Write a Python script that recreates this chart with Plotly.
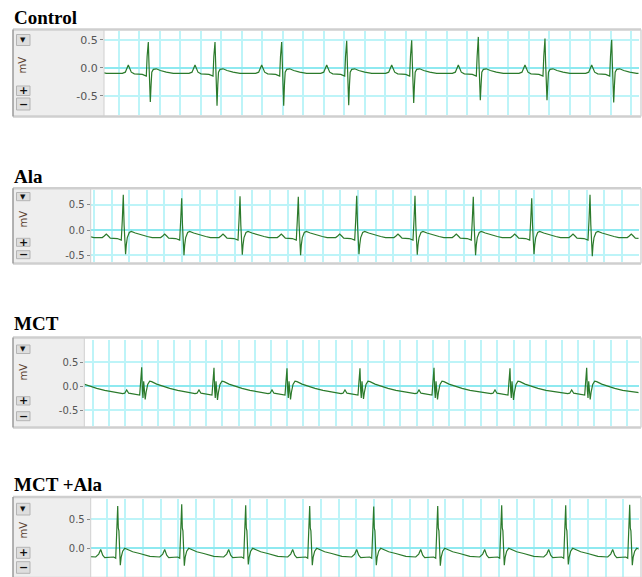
import plotly.graph_objects as go

# ---------------- DATA ----------------
titles = ["Control", "Ala", "MCT", "MCT +Ala"]
y_tick_vals = [-0.5, 0.0, 0.5]
y_tick_text = ["-0.5", "0.0", "0.5"]

# Control: R-peak times (s), R and S amplitudes (mV)
ctrl_r_times = [0.060, 0.2227, 0.3854, 0.5480, 0.7066, 0.8651, 1.0276, 1.1902, 1.3529, 1.5156]
ctrl_r_amp = [0.48, 0.46, 0.46, 0.46, 0.48, 0.49, 0.55, 0.52, 0.50, 0.50]
ctrl_s_amp = [-0.62, -0.61, -0.68, -0.68, -0.67, -0.63, -0.58, -0.58, -0.62, -0.62]
ctrl_beat_t = [-0.0780, -0.0634, -0.0561, -0.0488, -0.0415, -0.0341, -0.0146, -0.0073, -0.0049, -0.0029,
               0.0, 0.0015, 0.0029, 0.0049, 0.0068, 0.0085, 0.0122, 0.0195, 0.0293, 0.0439, 0.0610, 0.0780]
ctrl_beat_v = [-0.10, -0.10, -0.08, 0.05, -0.08, -0.11, -0.12, -0.14, -0.15, 0.20,
               "R", 0.10, -0.30, "S", -0.30, -0.08, -0.03, -0.02, -0.05, -0.08, -0.10, -0.10]

# Ala
ala_r_times = [-0.032, 0.1335, 0.2994, 0.4651, 0.6307, 0.7966, 0.9622, 1.1278, 1.2938, 1.4594, 1.6250]
ala_r_amp = [0.68, 0.70, 0.63, 0.67, 0.66, 0.68, 0.68, 0.66, 0.63, 0.70, 0.68]
ala_s_amp = [-0.48, -0.48, -0.50, -0.49, -0.50, -0.48, -0.49, -0.50, -0.48, -0.52, -0.50]
ala_beat_t = [-0.0820, -0.0597, -0.0540, -0.0483, -0.0426, -0.0369, -0.0170, -0.0085, -0.0057, -0.0028,
              0.0, 0.0023, 0.0043, 0.0065, 0.0085, 0.0114, 0.0170, 0.0227, 0.0341, 0.0511, 0.0682, 0.0820]
ala_beat_v = [-0.15, -0.15, -0.12, -0.08, -0.12, -0.16, -0.17, -0.19, -0.20, 0.20,
              "R", 0.10, -0.30, "S", -0.30, -0.15, -0.05, -0.03, -0.06, -0.10, -0.13, -0.15]

# MCT
mct_r_times = [0.1249, 0.3505, 0.5740, 0.7997, 1.0253, 1.2541, 1.4890, 1.7261, 1.9558]
mct_r_amp = [0.38, 0.39, 0.38, 0.37, 0.37, 0.38, 0.37, 0.38, 0.38]
mct_s_amp = [-0.28, -0.28, -0.29, -0.28, -0.27, -0.28, -0.29, -0.28, -0.28]
mct_beat_t = [-0.0587, -0.0525, -0.0464, -0.0402, -0.0155, -0.0062, -0.0031,
              0.0, 0.0022, 0.0040, 0.0062, 0.0083, 0.0108, 0.0139, 0.0185, 0.0247, 0.0309,
              0.0464, 0.0618, 0.0866, 0.1113, 0.1391, 0.1650]
mct_beat_v = [-0.16, -0.15, -0.08, -0.15, -0.17, -0.19, 0.10,
              "R", -0.10, -0.25, 0.10, -0.10, "S", -0.12, 0.03, 0.10, 0.09,
              0.04, 0.00, -0.05, -0.09, -0.12, -0.15]

# MCT + Ala
mctala_r_times = [-0.0500, 0.1298, 0.3096, 0.4893, 0.6691, 0.8489, 1.0287, 1.2084, 1.3882, 1.5680, 1.7478]
mctala_r_amp = [0.74, 0.73, 0.76, 0.74, 0.73, 0.72, 0.73, 0.74, 0.74, 0.75, 0.74]
mctala_s_amp = [-0.29, -0.29, -0.30, -0.28, -0.29, -0.29, -0.30, -0.29, -0.28, -0.29, -0.29]
mctala_beat_t = [-0.0895, -0.0618, -0.0534, -0.0478, -0.0421, -0.0365, -0.0225, -0.0112, -0.0056, -0.0028,
                 0.0, 0.0017, 0.0034, 0.0056, 0.0073, 0.0098, 0.0140, 0.0197, 0.0281, 0.0421, 0.0618, 0.0895]
mctala_beat_v = [-0.14, -0.15, -0.10, -0.02, -0.12, -0.16, -0.15, -0.15, -0.17, 0.30,
                 "R", 0.35, 0.30, -0.05, "S", -0.15, -0.05, 0.00, -0.02, -0.06, -0.09, -0.13]

series = [
    (ctrl_r_times, ctrl_r_amp, ctrl_s_amp, ctrl_beat_t, ctrl_beat_v),
    (ala_r_times, ala_r_amp, ala_s_amp, ala_beat_t, ala_beat_v),
    (mct_r_times, mct_r_amp, mct_s_amp, mct_beat_t, mct_beat_v),
    (mctala_r_times, mctala_r_amp, mctala_s_amp, mctala_beat_t, mctala_beat_v),
]

# ---------------- LAYOUT GEOMETRY (pixels) ----------------
W, H = 642, 577
panels = [
    dict(top=31, bottom=114.5, ftop=29.5, fbot=116.5, left=104, zero=67.7, ppmv=56, major=139, pps=410,
         tsize=11, title_y=18, btn_top=(34.5, 45.5), plus=(86, 95.5), minus=(98, 110), mv=65),
    dict(top=190, bottom=262, ftop=188.3, fbot=263.5, left=90.7, zero=230, ppmv=50.3, major=146.7, pps=352,
         tsize=10, title_y=176.5, btn_top=(192.5, 200.7), plus=(238.3, 246.3), minus=(250.7, 258.7), mv=219),
    dict(top=340, bottom=425.5, ftop=337.5, fbot=427.5, left=84.3, zero=386, ppmv=48, major=93, pps=323.5,
         tsize=10, title_y=323.5, btn_top=(345, 353.5), plus=(396.7, 405), minus=(411.7, 420.7), mv=372),
    dict(top=499, bottom=577, ftop=497, fbot=578, left=90.7, zero=548.3, ppmv=58, major=142.7, pps=356,
         tsize=10, title_y=484.5, btn_top=(503.3, 515), plus=(547.3, 558.3), minus=(561.7, 573.3), mv=530),
]
RIGHT = 638.5
FRAME_L, FRAME_R = 13, 641


def X(px):
    return px / W


def Y(py):
    return 1 - py / H


def build(r_times, r_amp, s_amp, bt, bv):
    xs, ys = [], []
    for rt, ra, sa in zip(r_times, r_amp, s_amp):
        for o, v in zip(bt, bv):
            xs.append(rt + o)
            ys.append(ra if v == "R" else (sa if v == "S" else v))
    return xs, ys


fig = go.Figure()
shapes = []
annotations = []
GREEN = "#2b7a2b"
GRID = "#bdf4f8"

for i, (p, s, title) in enumerate(zip(panels, series, titles), start=1):
    xs, ys = build(*s)
    xa = "x" if i == 1 else f"x{i}"
    ya = "y" if i == 1 else f"y{i}"
    fig.add_trace(go.Scatter(x=xs, y=ys, mode="lines", line=dict(color=GREEN, width=1.2),
                             xaxis=xa, yaxis=ya, hoverinfo="skip", showlegend=False))
    t0 = 0.2 + (p["left"] - p["major"]) / p["pps"]
    t1 = 0.2 + (RIGHT - p["major"]) / p["pps"]
    yr = [(p["zero"] - p["bottom"]) / p["ppmv"], (p["zero"] - p["top"]) / p["ppmv"]]
    xkey = "xaxis" if i == 1 else f"xaxis{i}"
    ykey = "yaxis" if i == 1 else f"yaxis{i}"
    fig.layout[xkey] = dict(domain=[X(p["left"]), X(RIGHT)], range=[t0, t1], anchor=ya,
                            showticklabels=False, ticks="", showline=False, zeroline=False,
                            showgrid=True, gridcolor=GRID, gridwidth=1.6, dtick=0.05, tick0=0,
                            fixedrange=True)
    fig.layout[ykey] = dict(domain=[Y(p["bottom"]), Y(p["top"])], range=yr, anchor=xa,
                            tickvals=y_tick_vals, ticktext=y_tick_text, ticks="outside", ticklen=3,
                            tickcolor="#888888", tickfont=dict(family="DejaVu Sans", size=p["tsize"], color="#555555"),
                            showgrid=True, gridcolor=GRID, gridwidth=1.5,
                            zeroline=True, zerolinecolor="#8ee9f0", zerolinewidth=2,
                            showline=False, fixedrange=True)

    # grey control strip
    shapes.append(dict(type="rect", xref="paper", yref="paper", x0=X(FRAME_L), x1=X(p["left"]),
                       y0=Y(p["fbot"]), y1=Y(p["ftop"]), fillcolor="#eeeeee", line=dict(width=0), layer="below"))
    # separator
    shapes.append(dict(type="line", xref="paper", yref="paper", x0=X(p["left"]), x1=X(p["left"]),
                       y0=Y(p["fbot"]), y1=Y(p["ftop"]), line=dict(color="#d0d0d0", width=1)))
    # frame lines
    for yy in (p["ftop"], p["fbot"]):
        shapes.append(dict(type="line", xref="paper", yref="paper", x0=X(FRAME_L), x1=X(FRAME_R),
                           y0=Y(yy), y1=Y(yy), line=dict(color="#cfcfcf", width=2.5)))
    shapes.append(dict(type="line", xref="paper", yref="paper", x0=X(FRAME_L), x1=X(FRAME_L),
                       y0=Y(p["fbot"]), y1=Y(p["ftop"]), line=dict(color="#9a9a9a", width=1.5)))
    shapes.append(dict(type="line", xref="paper", yref="paper", x0=X(FRAME_R), x1=X(FRAME_R),
                       y0=Y(p["fbot"]), y1=Y(p["ftop"]), line=dict(color="#d6d6d6", width=1.5)))
    # buttons
    for (b0, b1), sym, fs in ((p["btn_top"], "▼", 7), (p["plus"], "<b>+</b>", 11), (p["minus"], "<b>−</b>", 11)):
        shapes.append(dict(type="rect", xref="paper", yref="paper", x0=X(16.5), x1=X(30),
                           y0=Y(b1), y1=Y(b0), fillcolor="#dedede", line=dict(color="#b4b4b4", width=1)))
        annotations.append(dict(text=sym, xref="paper", yref="paper", x=X(23.2), y=Y((b0 + b1) / 2),
                                showarrow=False, font=dict(family="DejaVu Sans", size=fs, color="#111111"),
                                xanchor="center", yanchor="middle"))
    # mV label
    annotations.append(dict(text="mV", xref="paper", yref="paper", x=X(22.5), y=Y(p["mv"]), textangle=-90,
                            showarrow=False, font=dict(family="DejaVu Sans", size=10, color="#5a4030"),
                            xanchor="center", yanchor="middle"))
    # panel title
    annotations.append(dict(text=f"<b>{title}</b>", xref="paper", yref="paper", x=X(12), y=Y(p["title_y"]),
                            showarrow=False, font=dict(family="Liberation Serif", size=19, color="#000000"),
                            xanchor="left", yanchor="middle"))

fig.update_layout(width=W, height=H, margin=dict(l=0, r=0, t=0, b=0),
                  paper_bgcolor="white", plot_bgcolor="white",
                  shapes=shapes, annotations=annotations, showlegend=False)
fig.write_html("out.html", config={"displayModeBar": False},
               post_script="document.body.style.margin='0';document.body.style.overflow='hidden';")
